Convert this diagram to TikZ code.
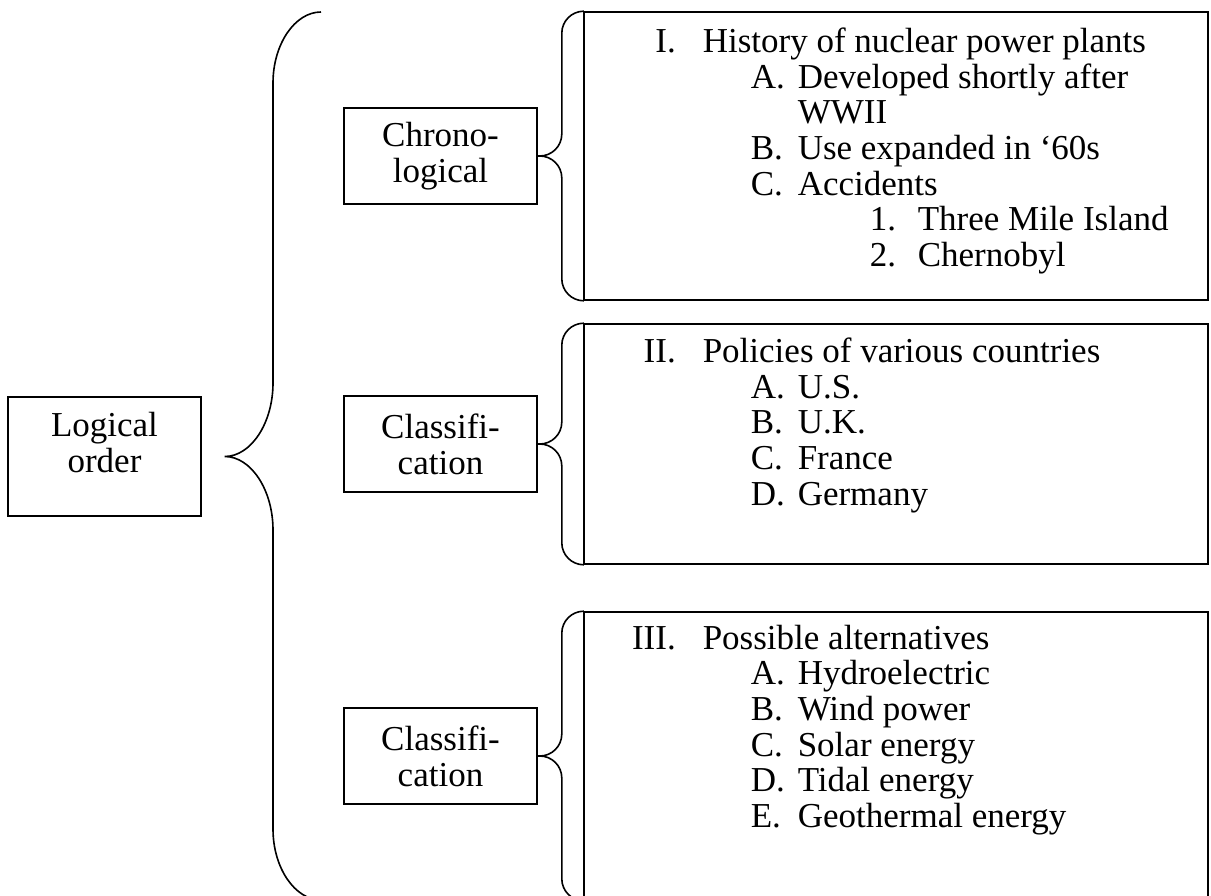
\documentclass[tikz,border=0pt]{standalone}
\usepackage{fontspec}
\setmainfont{Liberation Serif}
\usetikzlibrary{calc}

\newcommand{\lvlone}[2]{\makebox[75pt][r]{#1}\hspace*{27pt}#2}
\newcommand{\lvltwo}[2]{\hspace*{150pt}\makebox[47pt][l]{#1}#2}
\newcommand{\lvlthree}[2]{\hspace*{269pt}\makebox[48pt][l]{#1}#2}

\begin{document}
\begin{tikzpicture}[x=1pt,y=-1pt,line width=1.6pt,font=\fontsize{35pt}{35.7pt}\selectfont]
        \tikzstyle{box}=[draw,minimum width=193pt,minimum height=96pt,align=center,inner sep=0pt]
        \tikzstyle{listbox}=[draw,minimum width=624pt,inner sep=0pt]
        \tikzstyle{list}=[anchor=north west,align=left,inner sep=0pt]
        \tikzstyle{brace}=[rounded corners=22pt]
        \useasboundingbox (0,0) rectangle (1211,896);
        % left boxes
        \node[box,minimum height=119pt] (logic) at (104.5,456.5) {};
        \node[align=center,inner sep=0pt] (logictxt) at (104.5,442.5) {Logical\\order};
        \node[box] (chrono) at (440.5,156) {Chrono-\\logical};
        \node[box] (class1) at (440.5,444) {Classifi-\\cation};
        \node[box] (class2) at (440.5,756) {Classifi-\\cation};
        % outline boxes
        \node[listbox,minimum height=288pt] (hist) at (896,156) {};
        \node[listbox,minimum height=240pt] (policy) at (896,444) {};
        \node[listbox,minimum height=288pt] (altern) at (896,756) {};
        \node[list] (histtxt) at (600,27) {\lvlone{I.}{History of nuclear power plants}\\
          \lvltwo{A.}{Developed shortly after}\\ \hspace*{197pt}WWII\\
          \lvltwo{B.}{Use expanded in ‘60s}\\ \lvltwo{C.}{Accidents}\\
          \lvlthree{1.}{Three Mile Island}\\ \lvlthree{2.}{Chernobyl}};
        \node[list] (policytxt) at (600,337) {\lvlone{II.}{Policies of various countries}\\
          \lvltwo{A.}{U.S.}\\ \lvltwo{B.}{U.K.}\\ \lvltwo{C.}{France}\\ \lvltwo{D.}{Germany}};
        \node[list] (alterntxt) at (600,624) {\lvlone{III.}{Possible alternatives}\\
          \lvltwo{A.}{Hydroelectric}\\ \lvltwo{B.}{Wind power}\\ \lvltwo{C.}{Solar energy}\\
          \lvltwo{D.}{Tidal energy}\\ \lvltwo{E.}{Geothermal energy}};
        % braces
        \coordinate (tip) at ($(logic.east)+(23,0)$);
        \draw (321,12) .. controls (295,12) and (273,44) .. (273,83) -- (273,383)
          .. controls (273,423) and (251,456.5) .. (tip)
          .. controls (251,456.5) and (273,490) .. (273,530) -- (273,829)
          .. controls (273,868) and (295,900) .. (321,900);
        \foreach \b/\l in {hist/chrono,policy/class1,altern/class2}
          \draw[brace] (\b.north west) -| ($(\l.east)+(24,0)$) -- (\l.east)
            (\l.east) -- ($(\l.east)+(24,0)$) |- (\b.south west);
\end{tikzpicture}
\end{document}
